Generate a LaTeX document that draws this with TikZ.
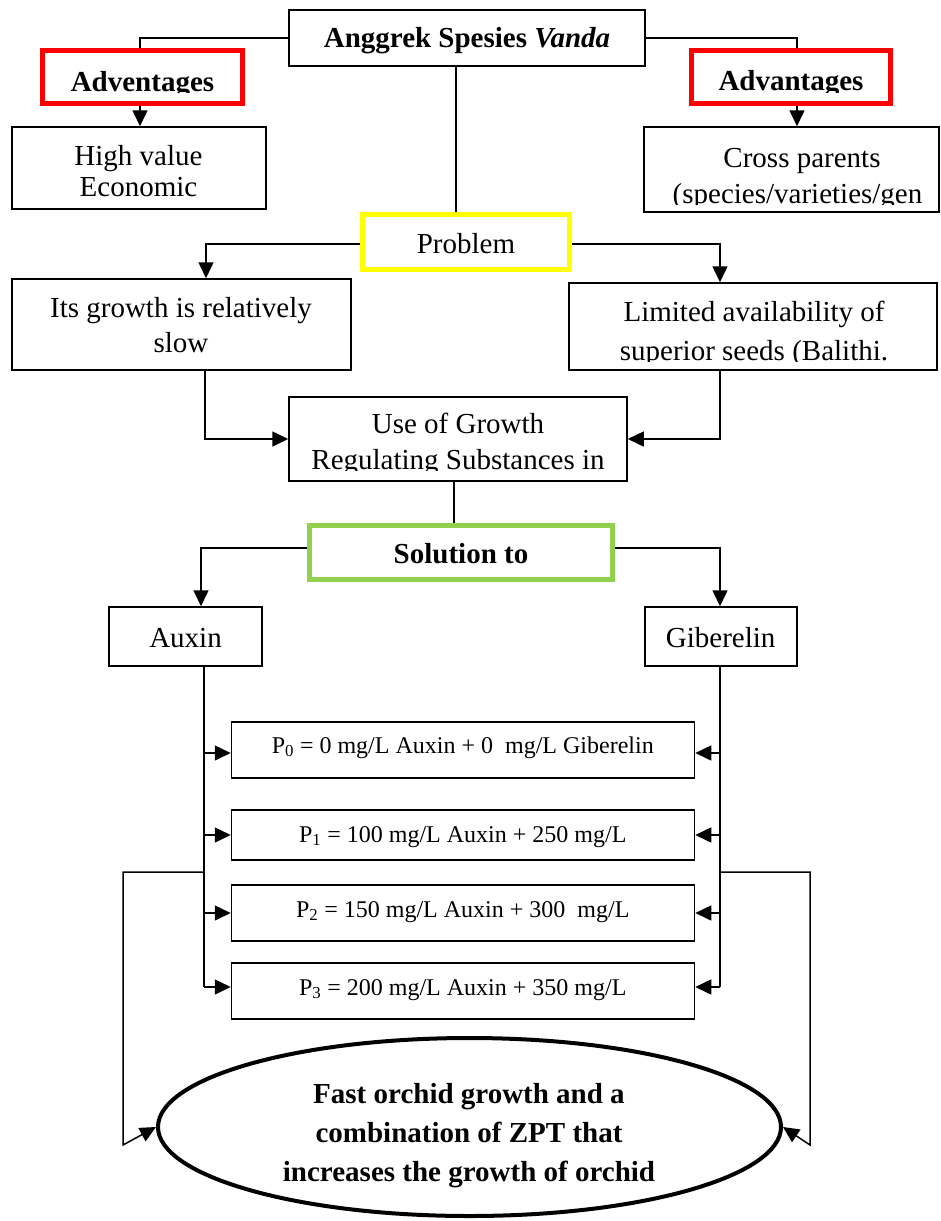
\documentclass[tikz,border=0pt]{standalone}
\usepackage{fontspec}
\setmainfont{Liberation Serif}
\usetikzlibrary{arrows.meta,shapes.geometric}
\definecolor{boxred}{RGB}{255,0,0}
\definecolor{boxyellow}{RGB}{255,255,0}
\definecolor{boxgreen}{RGB}{146,208,80}
\begin{document}
\begin{tikzpicture}[x=1pt,y=-1pt,
  box/.style={draw=black, line width=1.5pt, rectangle, inner sep=0pt},
  redbox/.style={draw=boxred, line width=5pt, rectangle, inner sep=0pt},
  yelbox/.style={draw=boxyellow, line width=5pt, rectangle, inner sep=0pt},
  grnbox/.style={draw=boxgreen, line width=5pt, rectangle, inner sep=0pt},
  txt/.style={anchor=base, inner sep=0pt, font=\fontsize{29}{31}\selectfont},
  btxt/.style={anchor=base, inner sep=0pt, font=\fontsize{29}{31}\selectfont\bfseries},
  ptxt/.style={anchor=base, inner sep=0pt, font=\fontsize{24}{26}\selectfont},
  conn/.style={line width=1.5pt},
  arr/.style={line width=1.5pt, -{Triangle[length=16pt,width=15pt]}},
]
\useasboundingbox (0,0) rectangle (941,1221);

% boxes
\node[box, minimum width=356pt, minimum height=56pt] (top) at (467,38) {};
\node[redbox, minimum width=200pt, minimum height=53pt] (redL) at (142.5,77) {};
\node[redbox, minimum width=199pt, minimum height=53pt] (redR) at (791,77) {};
\node[box, minimum width=254pt, minimum height=82pt] (hv) at (139,168) {};
\node[box, minimum width=295pt, minimum height=85pt] (cross) at (791.5,169.5) {};
\node[yelbox, minimum width=207pt, minimum height=55pt] (prob) at (466,242) {};
\node[box, minimum width=339pt, minimum height=91pt] (its) at (181.5,324.5) {};
\node[box, minimum width=368pt, minimum height=87pt] (lim) at (753,326.5) {};
\node[box, minimum width=338pt, minimum height=84pt] (use) at (458,439) {};
\node[grnbox, minimum width=303pt, minimum height=54pt] (sol) at (461,552.5) {};
\node[box, minimum width=153pt, minimum height=59pt] (aux) at (185.5,636.5) {};
\node[box, minimum width=152pt, minimum height=59pt] (gib) at (721,636.5) {};
\node[box, minimum width=463pt, minimum height=56pt] (p0) at (463,750) {};
\node[box, minimum width=463pt, minimum height=50pt] (p1) at (463,835) {};
\node[box, minimum width=463pt, minimum height=56pt] (p2) at (463,913) {};
\node[box, minimum width=463pt, minimum height=56pt] (p3) at (463,991) {};
\node[draw=black, line width=4pt, ellipse, inner sep=0pt, minimum width=623pt, minimum height=178pt] (ell) at (469.5,1127) {};

% texts
\node[btxt] (ttop) at (467,47) {Anggrek Spesies \textit{Vanda}};
\begin{scope}
  \clip (45,52) rectangle (240,92);
  \node[btxt] (tredL) at (142.5,91) {Adventages};
\end{scope}
\begin{scope}
  \clip (694,52) rectangle (888,92);
  \node[btxt] (tredR) at (791,90.5) {Advantages};
\end{scope}
\node[txt] (thv1) at (138.5,165) {High value};
\node[txt] (thv2) at (138.5,196) {Economic};
\node[txt] (tcr1) at (802,167) {Cross parents};
\begin{scope}
  \clip (646,175) rectangle (938,204);
  \node[txt] (tcr2) at (797.5,203) {(species/varieties/gen};
\end{scope}
\node[txt] (tprob) at (466,253) {Problem};
\node[txt] (tits1) at (181,317) {Its growth is relatively};
\node[txt] (tits2) at (181,352) {slow};
\node[txt] (tlim1) at (754,321) {Limited availability of};
\begin{scope}
  \clip (571,330) rectangle (935,361);
  \node[txt] (tlim2) at (754,360) {superior seeds (Balithi.};
\end{scope}
\node[txt] (tuse1) at (458,433) {Use of Growth};
\begin{scope}
  \clip (291,440) rectangle (625,470);
  \node[txt] (tuse2) at (458,469) {Regulating Substances in};
\end{scope}
\node[btxt] (tsol) at (461,563) {Solution to};
\node[txt] (taux) at (185.5,647) {Auxin};
\node[txt] (tgib) at (720.7,647) {Giberelin};
\node[ptxt] (tp0) at (462.75,753) {P\textsubscript{0} = 0 mg/L Auxin + 0 \ mg/L Giberelin};
\node[ptxt] (tp1) at (462.75,842) {P\textsubscript{1} = 100 mg/L Auxin + 250 mg/L};
\node[ptxt] (tp2) at (462.75,917) {P\textsubscript{2} = 150 mg/L Auxin + 300 \ mg/L};
\node[ptxt] (tp3) at (462.75,995) {P\textsubscript{3} = 200 mg/L Auxin + 350 mg/L};
\node[btxt] (tell1) at (469,1103) {Fast orchid growth and a};
\node[btxt] (tell2) at (469,1142) {combination of ZPT that};
\node[btxt] (tell3) at (469,1181) {increases the growth of orchid};

% helper x positions
\coordinate (xl) at (140,0);
\coordinate (xr) at (797,0);
\coordinate (xm) at (456,0);
\coordinate (xa) at (206,0);
\coordinate (xb) at (720,0);
\coordinate (xc) at (205,0);
\coordinate (xd) at (454,0);
\coordinate (xe) at (201,0);
\coordinate (xf) at (204,0);
\coordinate (ybot) at (0,987);
\coordinate (fl1) at (204,872);
\coordinate (fl2) at (123,872);
\coordinate (fl3) at (123,1145);
\coordinate (fr1) at (720,872);
\coordinate (fr2) at (810,872);
\coordinate (fr3) at (810,1145);

% connectors
\draw[conn] (top.west) -| (xl |- redL.north);
\draw[arr] (xl |- redL.south) -- (xl |- hv.north);
\draw[conn] (top.east) -| (xr |- redR.north);
\draw[arr] (xr |- redR.south) -- (xr |- cross.north);
\draw[conn] (xm |- top.south) -- (xm |- prob.north);
\draw[arr] ([yshift=-2pt]prob.west) -| (xa |- its.north);
\draw[arr] ([yshift=-2pt]prob.east) -| (xb |- lim.north);
\draw[arr] (xc |- its.south) |- (use.west);
\draw[arr] (xb |- lim.south) |- (use.east);
\draw[conn] (xd |- use.south) -- (xd |- sol.north);
\draw[arr] ([yshift=4.5pt]sol.west) -| (xe |- aux.north);
\draw[arr] ([yshift=4.5pt]sol.east) -| (xb |- gib.north);
\draw[conn] (xf |- aux.south) -- (xf |- ybot);
\draw[conn] (xb |- gib.south) -- (xb |- ybot);
\foreach \p/\dy in {p0/-3,p1/0,p2/0,p3/4} {
  \coordinate (aL) at ([yshift=\dy pt]\p.west);
  \coordinate (aR) at ([yshift=\dy pt]\p.east);
  \draw[arr] (xf |- aL) -- (aL);
  \draw[arr] (xb |- aR) -- (aR);
}
\draw[arr] (fl1) -- (fl2) -- (fl3) -- (ell.west);
\draw[arr] (fr1) -- (fr2) -- (fr3) -- (ell.east);
\end{tikzpicture}
\end{document}
